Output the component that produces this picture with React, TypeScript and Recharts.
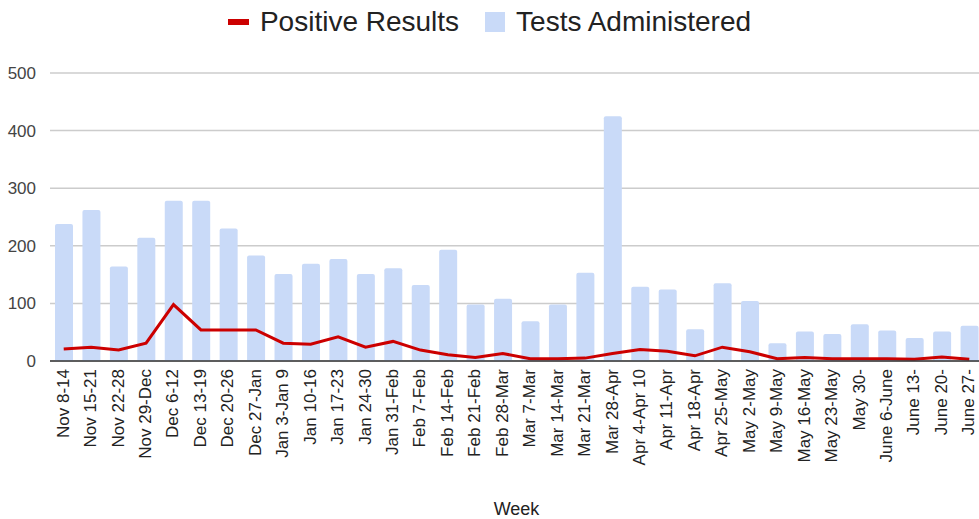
import React from 'react';
import { ComposedChart, Bar, Line, XAxis, YAxis, CartesianGrid, Legend } from 'recharts';

const weeks = [
  'Nov 8-14', 'Nov 15-21', 'Nov 22-28', 'Nov 29-Dec', 'Dec 6-12', 'Dec 13-19', 'Dec 20-26',
  'Dec 27-Jan', 'Jan 3-Jan 9', 'Jan 10-16', 'Jan 17-23', 'Jan 24-30', 'Jan 31-Feb', 'Feb 7-Feb',
  'Feb 14-Feb', 'Feb 21-Feb', 'Feb 28-Mar', 'Mar 7-Mar', 'Mar 14-Mar', 'Mar 21-Mar', 'Mar 28-Apr',
  'Apr 4-Apr 10', 'Apr 11-Apr', 'Apr 18-Apr', 'Apr 25-May', 'May 2-May', 'May 9-May', 'May 16-May',
  'May 23-May', 'May 30-', 'June 6-June', 'June 13-', 'June 20-', 'June 27-',
];

const testsAdministered = [
  238, 262, 164, 214, 278, 278, 230, 183, 151, 169, 177, 151, 161, 132,
  193, 98, 108, 69, 98, 153, 425, 129, 124, 55, 135, 104, 31, 51,
  47, 64, 53, 40, 51, 61,
];

const positiveResults = [
  21, 24, 19, 31, 98, 54, 54, 54, 31, 29, 42, 24, 34, 19,
  11, 6, 13, 4, 4, 5, 13, 20, 17, 9, 24, 16, 4, 6,
  4, 4, 4, 3, 7, 3,
];

const yTicks = [0, 100, 200, 300, 400, 500];

const data = weeks.map((week, i) => ({
  week,
  tests: testsAdministered[i],
  positive: positiveResults[i],
}));

const FONT = "Arial, 'Liberation Sans', sans-serif";

function WeekTick({ x, y, payload }: any) {
  return (
    <g transform={`translate(${x},${y})`}>
      <text x={0} y={0} dy={5} textAnchor="end" transform="rotate(-90)" fontSize={17} fill="#222" fontFamily={FONT}>
        {payload.value}
      </text>
    </g>
  );
}

function ChartLegend() {
  return (
    <div style={{ height: 44, display: 'flex', justifyContent: 'center', alignItems: 'center', fontFamily: FONT, fontSize: 28, color: '#222' }}>
      <span style={{ display: 'inline-block', width: 21, height: 6, background: '#cc0000', marginRight: 11 }} />
      <span style={{ marginRight: 26 }}>Positive Results</span>
      <span style={{ display: 'inline-block', width: 20, height: 20, background: '#c9daf8', marginRight: 11 }} />
      <span>Tests Administered</span>
    </div>
  );
}

export default function App() {
  return (
    <div style={{ position: 'fixed', left: 0, top: 0, width: 979, height: 519, overflow: 'hidden', background: '#fff' }}>
      <ComposedChart width={988} height={519} data={data} margin={{ top: 29, right: 5, bottom: 0, left: 0 }}>
        <Legend verticalAlign="top" content={() => <ChartLegend />} wrapperStyle={{ left: 0, top: 0, width: 979 }} />
        <CartesianGrid vertical={false} stroke="#cccccc" strokeWidth={1.5} />
        <XAxis
          dataKey="week"
          interval={0}
          tick={<WeekTick />}
          tickLine={false}
          axisLine={{ stroke: '#333', strokeWidth: 1.5 }}
          height={158}
          label={{ value: 'Week', position: 'insideBottom', offset: 4, fontSize: 18, fill: '#222', fontFamily: FONT }}
        />
        <YAxis
          domain={[0, 500]}
          ticks={yTicks}
          width={50}
          axisLine={false}
          tickLine={false}
          tickSize={0}
          tickMargin={14}
          tick={{ fontSize: 17, fill: '#444', fontFamily: FONT }}
        />
        <Bar dataKey="tests" fill="#c9daf8" barSize={18} radius={[2, 2, 0, 0]} isAnimationActive={false} />
        <Line dataKey="positive" stroke="#cc0000" strokeWidth={3} dot={false} type="linear" isAnimationActive={false} />
      </ComposedChart>
    </div>
  );
}
